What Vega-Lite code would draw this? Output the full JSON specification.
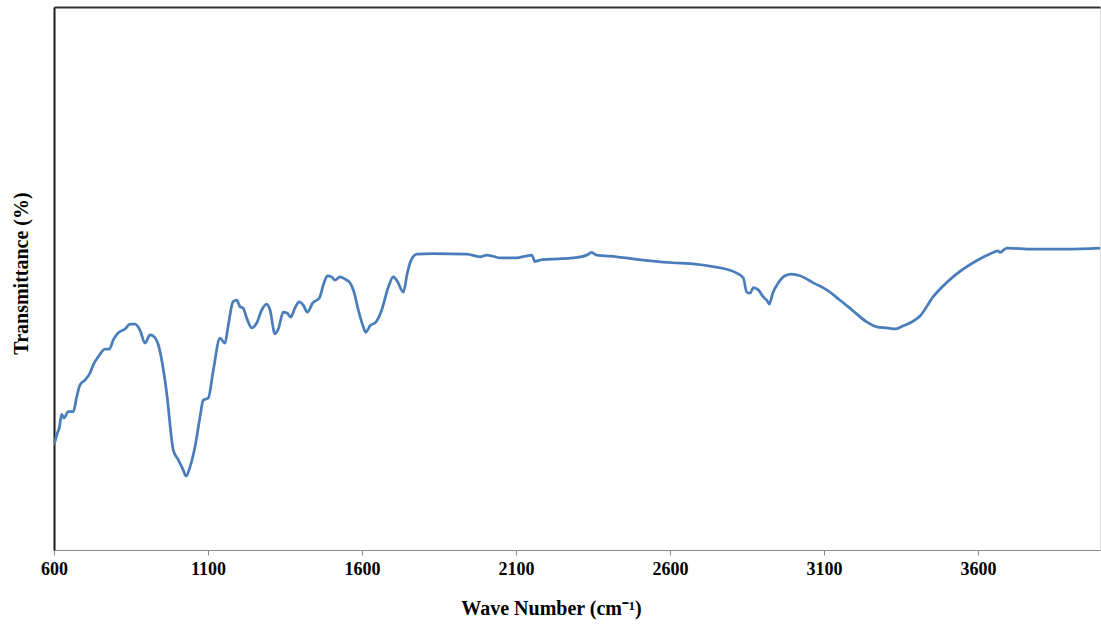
{
  "$schema": "https://vega.github.io/schema/vega-lite/v6.json",
  "width": 1046,
  "height": 543,
  "autosize": {"type": "none"},
  "padding": {"left": 54, "top": 7, "right": 1, "bottom": 74},
  "background": "white",
  "config": {
    "view": {"stroke": "#d9d9d9", "strokeWidth": 1},
    "font": "Liberation Serif"
  },
  "data": {
    "values": [
      {"wn": 600, "t": 19.3}, {"wn": 610.7, "t": 21.5}, {"wn": 617.2, "t": 22.5}, {"wn": 625, "t": 25.0},
      {"wn": 632.5, "t": 24.3}, {"wn": 646.4, "t": 25.5}, {"wn": 662.7, "t": 25.5}, {"wn": 673.7, "t": 28.2},
      {"wn": 684.4, "t": 30.4}, {"wn": 700.7, "t": 31.3}, {"wn": 716.9, "t": 32.6}, {"wn": 727.6, "t": 34.1},
      {"wn": 743.8, "t": 35.6}, {"wn": 765.6, "t": 37.0}, {"wn": 779.5, "t": 37.0}, {"wn": 792.5, "t": 38.7},
      {"wn": 808.8, "t": 40.0}, {"wn": 830.5, "t": 40.7}, {"wn": 846.8, "t": 41.6}, {"wn": 863, "t": 41.6},
      {"wn": 879.2, "t": 40.5}, {"wn": 895.5, "t": 38.1}, {"wn": 911.7, "t": 39.6}, {"wn": 922.4, "t": 39.4},
      {"wn": 938.6, "t": 37.8}, {"wn": 949.7, "t": 35.0}, {"wn": 965.9, "t": 28.9}, {"wn": 987.3, "t": 18.4},
      {"wn": 1003.6, "t": 16.6}, {"wn": 1019.8, "t": 14.7}, {"wn": 1028.6, "t": 13.6}, {"wn": 1041.6, "t": 15.3},
      {"wn": 1057.8, "t": 19.0}, {"wn": 1074, "t": 24.5}, {"wn": 1084.7, "t": 27.6}, {"wn": 1101, "t": 28.0},
      {"wn": 1117.2, "t": 33.1}, {"wn": 1139, "t": 39.0}, {"wn": 1155.2, "t": 38.1}, {"wn": 1165, "t": 41.1},
      {"wn": 1181.2, "t": 45.7}, {"wn": 1193.2, "t": 46.0}, {"wn": 1203.9, "t": 44.8}, {"wn": 1213.6, "t": 44.6},
      {"wn": 1225.7, "t": 42.7}, {"wn": 1241.9, "t": 40.9}, {"wn": 1258.1, "t": 41.8}, {"wn": 1274.4, "t": 44.2},
      {"wn": 1290.6, "t": 45.3}, {"wn": 1301.3, "t": 44.2}, {"wn": 1317.5, "t": 39.8}, {"wn": 1328.3, "t": 40.7},
      {"wn": 1344.5, "t": 43.8}, {"wn": 1357.5, "t": 43.6}, {"wn": 1368.5, "t": 42.9}, {"wn": 1382.5, "t": 44.6},
      {"wn": 1396.4, "t": 45.7}, {"wn": 1409.4, "t": 45.1}, {"wn": 1422.4, "t": 43.8}, {"wn": 1440, "t": 45.5},
      {"wn": 1461.4, "t": 46.4}, {"wn": 1476.6, "t": 49.2}, {"wn": 1487.4, "t": 50.5}, {"wn": 1501.6, "t": 50.3},
      {"wn": 1512.3, "t": 49.7}, {"wn": 1528.6, "t": 50.3}, {"wn": 1544.8, "t": 49.9}, {"wn": 1561, "t": 49.2},
      {"wn": 1574, "t": 47.5}, {"wn": 1588, "t": 44.2}, {"wn": 1604.2, "t": 41.1}, {"wn": 1612, "t": 40.1},
      {"wn": 1626, "t": 41.3}, {"wn": 1645.5, "t": 42.0}, {"wn": 1664, "t": 44.2}, {"wn": 1685.4, "t": 48.4},
      {"wn": 1701.6, "t": 50.3}, {"wn": 1714.6, "t": 49.5}, {"wn": 1734.1, "t": 47.5}, {"wn": 1747.1, "t": 51.0},
      {"wn": 1758.1, "t": 53.2}, {"wn": 1777.6, "t": 54.5}, {"wn": 1830.5, "t": 54.6}, {"wn": 1940, "t": 54.5},
      {"wn": 1983.1, "t": 54.0}, {"wn": 2004.9, "t": 54.3}, {"wn": 2025.3, "t": 54.1}, {"wn": 2048, "t": 53.8},
      {"wn": 2102.3, "t": 53.8}, {"wn": 2129.2, "t": 54.1}, {"wn": 2151, "t": 54.3}, {"wn": 2161.7, "t": 53.1},
      {"wn": 2177.9, "t": 53.4}, {"wn": 2232.2, "t": 53.6}, {"wn": 2285.1, "t": 53.8}, {"wn": 2329.5, "t": 54.3},
      {"wn": 2345.7, "t": 54.8}, {"wn": 2362, "t": 54.3}, {"wn": 2426.9, "t": 54.0}, {"wn": 2479.9, "t": 53.6},
      {"wn": 2544.8, "t": 53.2}, {"wn": 2609.8, "t": 52.9}, {"wn": 2674.7, "t": 52.7}, {"wn": 2739.6, "t": 52.2},
      {"wn": 2784.1, "t": 51.7}, {"wn": 2816.6, "t": 51.0}, {"wn": 2838, "t": 50.1}, {"wn": 2849, "t": 47.5},
      {"wn": 2859.8, "t": 47.3}, {"wn": 2870.5, "t": 48.3}, {"wn": 2886.7, "t": 47.9}, {"wn": 2903, "t": 46.6},
      {"wn": 2914, "t": 46.0}, {"wn": 2922.4, "t": 45.3}, {"wn": 2933.5, "t": 47.3}, {"wn": 2951.6, "t": 49.2},
      {"wn": 2973.4, "t": 50.5}, {"wn": 2995.1, "t": 50.8}, {"wn": 3022.1, "t": 50.5}, {"wn": 3065.3, "t": 49.2},
      {"wn": 3108.8, "t": 47.9}, {"wn": 3152, "t": 46.0}, {"wn": 3195.2, "t": 44.0}, {"wn": 3238.6, "t": 42.0},
      {"wn": 3271.1, "t": 41.1}, {"wn": 3303.5, "t": 40.9}, {"wn": 3330.5, "t": 40.7}, {"wn": 3357.5, "t": 41.3},
      {"wn": 3384.8, "t": 42.0}, {"wn": 3411.7, "t": 43.1}, {"wn": 3454, "t": 46.6}, {"wn": 3518.9, "t": 50.3},
      {"wn": 3583.8, "t": 52.9}, {"wn": 3649.7, "t": 54.8}, {"wn": 3664, "t": 55.1}, {"wn": 3671.5, "t": 54.8},
      {"wn": 3693.2, "t": 55.6}, {"wn": 3778.6, "t": 55.4}, {"wn": 3889, "t": 55.4}, {"wn": 3996, "t": 55.6}
    ]
  },
  "layer": [
    {
      "mark": {"type": "line", "color": "#4a7ebb", "strokeWidth": 2.75, "clip": true, "interpolate": "monotone"},
      "encoding": {
        "x": {
          "field": "wn", "type": "quantitative",
          "scale": {"domain": [600, 3996], "nice": false, "zero": false},
          "axis": {
            "title": "Wave Number (cm⁻¹)",
            "values": [600, 1100, 1600, 2100, 2600, 3100, 3600],
            "format": "d",
            "labelFlush": false,
            "labelOverlap": false,
            "grid": false,
            "domainColor": "#898989", "domainWidth": 1,
            "tickColor": "#898989", "tickSize": 5,
            "labelFont": "Liberation Serif", "labelFontWeight": "bold", "labelFontSize": 18,
            "labelColor": "#000000", "labelPadding": 5,
            "titleFont": "Liberation Serif", "titleFontWeight": "bold", "titleFontSize": 20,
            "titleColor": "#000000", "titlePadding": 20,
            "titleX": 497, "titleAlign": "center"
          }
        },
        "y": {
          "field": "t", "type": "quantitative",
          "scale": {"domain": [0, 100], "nice": false},
          "axis": {
            "title": "Transmittance (%)",
            "labels": false, "ticks": false, "grid": false,
            "domainColor": "#1a1a1a", "domainWidth": 2,
            "titleFont": "Liberation Serif", "titleFontWeight": "bold", "titleFontSize": 20,
            "titleColor": "#000000", "titlePadding": 23,
            "titleY": 266
          }
        }
      }
    },
    {
      "mark": {"type": "line", "opacity": 0},
      "encoding": {
        "x": {
          "field": "wn", "type": "quantitative",
          "axis": {"orient": "top", "title": null, "labels": false, "ticks": false, "grid": false,
                   "domainColor": "#333333", "domainWidth": 2}
        },
        "y": {"field": "t", "type": "quantitative"}
      }
    }
  ],
  "resolve": {"axis": {"x": "independent"}}
}
